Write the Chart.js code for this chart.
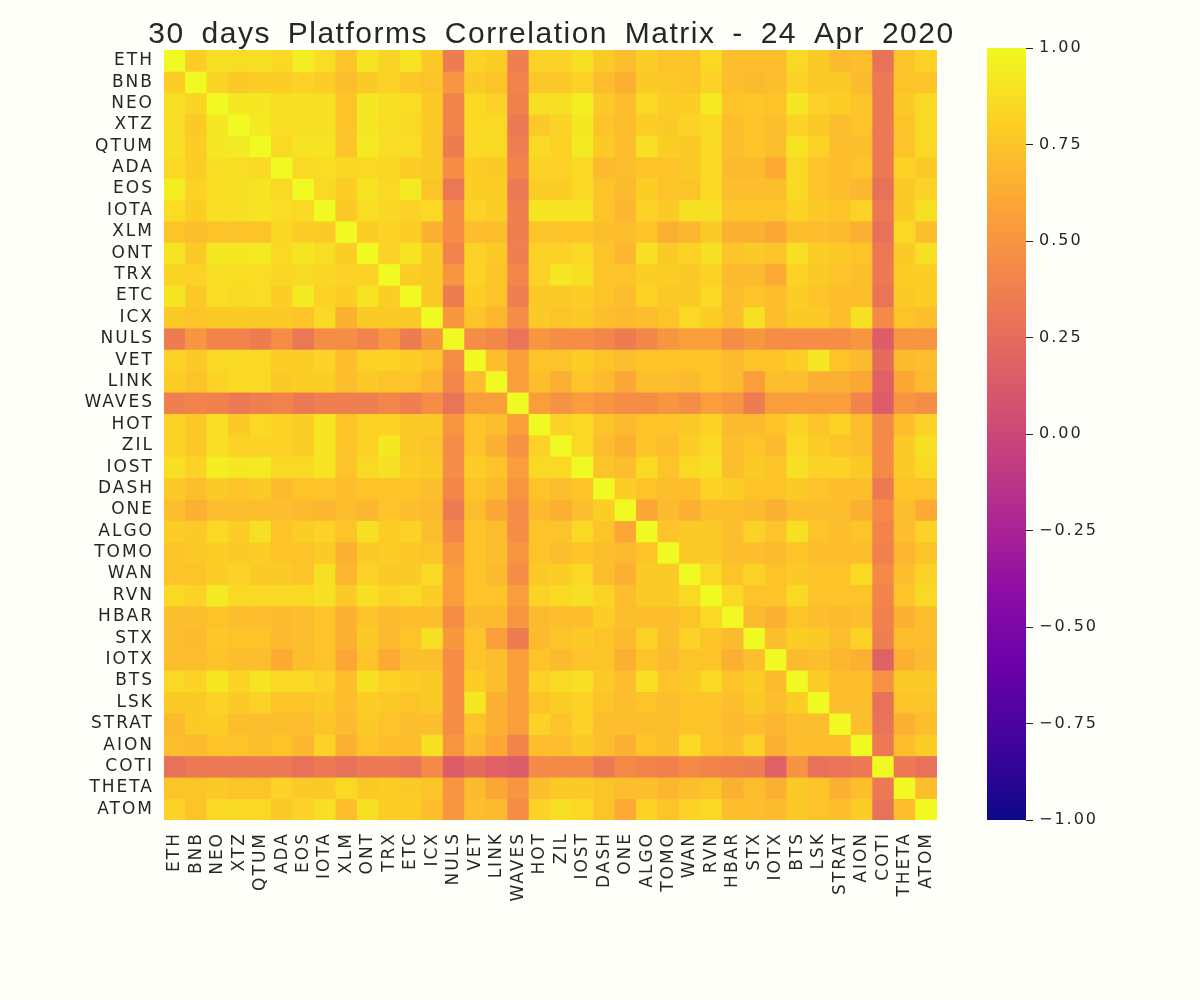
<!DOCTYPE html>
<html>
<head>
<meta charset="utf-8">
<title>Platforms Correlation Matrix</title>
<script src="https://cdn.jsdelivr.net/npm/chart.js@4/dist/chart.umd.min.js"></script>
<style>
  body { margin: 0; background: #fffffa; }
  #wrap { position: relative; width: 1200px; height: 1000px; }
  #heat { position: absolute; left: 0; top: 0; }
  #cbar { position: absolute; left: 940px; top: 0; }
</style>
</head>
<body>
<div id="wrap">
  <canvas id="heat" width="1102" height="1000"></canvas>
  <canvas id="cbar" width="260" height="1000"></canvas>
</div>
<script>
const titleText = "30 days Platforms Correlation Matrix - 24 Apr 2020";

const coins = ["ETH", "BNB", "NEO", "XTZ", "QTUM", "ADA", "EOS", "IOTA", "XLM", "ONT", "TRX", "ETC",
  "ICX", "NULS", "VET", "LINK", "WAVES", "HOT", "ZIL", "IOST", "DASH", "ONE", "ALGO", "TOMO",
  "WAN", "RVN", "HBAR", "STX", "IOTX", "BTS", "LSK", "STRAT", "AION", "COTI", "THETA", "ATOM"];

// upper triangle, row i holds the values for columns i..35
const corrUpper = [
  [1, .80, .88, .87, .88, .85, .95, .87, .75, .90, .83, .90, .78, .35, .82, .80, .36, .82, .82, .88, .78, .72, .80, .75, .75, .85, .72, .72, .72, .85, .78, .70, .72, .28, .75, .82],
  [1, .83, .78, .80, .80, .82, .80, .72, .78, .82, .77, .75, .50, .78, .75, .40, .77, .77, .82, .72, .65, .78, .77, .75, .82, .72, .70, .72, .82, .78, .78, .70, .33, .75, .75],
  [1, .92, .92, .88, .88, .88, .75, .92, .88, .87, .78, .40, .85, .82, .38, .88, .88, .95, .78, .72, .85, .80, .80, .93, .75, .77, .75, .92, .82, .80, .75, .33, .78, .85],
  [1, .93, .87, .88, .88, .75, .92, .87, .85, .78, .40, .85, .85, .33, .78, .82, .92, .75, .72, .80, .78, .82, .85, .72, .75, .72, .82, .78, .72, .75, .33, .75, .85],
  [1, .85, .90, .90, .75, .93, .87, .87, .78, .35, .85, .85, .36, .85, .82, .93, .78, .72, .88, .80, .78, .85, .72, .75, .72, .90, .82, .72, .72, .33, .75, .85],
  [1, .85, .87, .84, .85, .84, .80, .78, .45, .80, .78, .40, .82, .82, .85, .70, .72, .75, .75, .78, .85, .70, .70, .62, .85, .75, .72, .75, .33, .82, .78],
  [1, .85, .80, .90, .85, .93, .75, .32, .80, .80, .33, .80, .80, .85, .75, .70, .80, .75, .75, .85, .72, .72, .72, .85, .75, .72, .68, .28, .78, .82],
  [1, .78, .87, .84, .82, .85, .45, .82, .80, .37, .90, .90, .90, .75, .68, .82, .78, .88, .88, .75, .75, .75, .82, .78, .75, .82, .33, .78, .88],
  [1, .80, .82, .80, .65, .45, .72, .72, .37, .75, .75, .75, .72, .72, .75, .65, .68, .78, .65, .65, .60, .72, .72, .70, .65, .28, .85, .72],
  [1, .82, .90, .78, .40, .82, .78, .36, .82, .82, .85, .75, .68, .88, .78, .82, .88, .75, .78, .75, .88, .80, .78, .75, .33, .78, .88],
  [1, .80, .78, .50, .82, .75, .42, .82, .92, .88, .75, .75, .80, .80, .78, .82, .70, .70, .62, .82, .78, .75, .72, .33, .80, .80],
  [1, .78, .35, .80, .75, .36, .78, .78, .80, .75, .72, .82, .77, .78, .85, .72, .75, .72, .80, .75, .72, .72, .30, .78, .80],
  [1, .52, .75, .68, .45, .78, .75, .78, .72, .70, .72, .75, .85, .80, .72, .88, .72, .78, .78, .72, .88, .43, .75, .72],
  [1, .45, .42, .30, .50, .45, .45, .42, .35, .42, .50, .55, .55, .45, .52, .45, .45, .45, .45, .50, .15, .50, .50],
  [1, .72, .55, .75, .75, .80, .75, .72, .75, .75, .75, .75, .70, .75, .75, .80, .92, .75, .70, .25, .70, .72],
  [1, .55, .72, .65, .75, .70, .60, .72, .72, .70, .75, .70, .55, .72, .72, .65, .65, .60, .18, .60, .70],
  [1, .55, .48, .55, .50, .45, .45, .50, .45, .55, .50, .35, .55, .55, .55, .55, .40, .15, .50, .45],
  [1, .82, .85, .75, .70, .75, .75, .78, .82, .70, .70, .75, .82, .75, .82, .72, .43, .72, .82],
  [1, .85, .72, .65, .75, .72, .80, .85, .72, .75, .70, .85, .80, .75, .72, .43, .78, .88],
  [1, .75, .72, .85, .75, .85, .88, .72, .78, .75, .88, .82, .82, .78, .43, .78, .85],
  [1, .80, .75, .72, .72, .82, .80, .75, .75, .78, .75, .72, .72, .33, .75, .75],
  [1, .60, .70, .65, .72, .72, .70, .65, .72, .72, .72, .65, .43, .72, .62],
  [1, .75, .78, .78, .72, .82, .75, .88, .75, .72, .75, .40, .72, .82],
  [1, .78, .78, .72, .72, .70, .75, .72, .72, .72, .38, .68, .75],
  [1, .85, .75, .82, .75, .78, .75, .75, .85, .43, .72, .82],
  [1, .85, .75, .75, .85, .75, .75, .75, .40, .75, .85],
  [1, .70, .65, .75, .72, .70, .72, .38, .65, .72],
  [1, .72, .80, .78, .72, .82, .36, .72, .72],
  [1, .70, .72, .68, .65, .18, .65, .70],
  [1, .80, .72, .72, .48, .78, .78],
  [1, .72, .72, .28, .75, .75],
  [1, .72, .30, .65, .72],
  [1, .33, .72, .80],
  [1, .33, .28],
  [1, .72],
  [1]
];

const cbarTicks = [-1, -0.75, -0.5, -0.25, 0, 0.25, 0.5, 0.75, 1];

// plasma colormap
const plasma = ["#0d0887", "#41049d", "#6a00a8", "#8f0da4", "#b12a90", "#cc4778",
                "#e16462", "#f2844b", "#fca636", "#fcce25", "#f0f921"];

function hexRgb(h) {
  return [parseInt(h.slice(1, 3), 16), parseInt(h.slice(3, 5), 16), parseInt(h.slice(5, 7), 16)];
}
function plasmaColor(v) {
  let t = Math.min(1, Math.max(0, (v + 1) / 2)) * (plasma.length - 1);
  let i = Math.min(plasma.length - 2, Math.floor(t));
  let f = t - i;
  let a = hexRgb(plasma[i]), b = hexRgb(plasma[i + 1]);
  let c = a.map((x, k) => Math.round(x + (b[k] - x) * f));
  return "rgb(" + c.join(",") + ")";
}

function cell(r, c) {
  return r <= c ? corrUpper[r][c - r] : corrUpper[c][r - c];
}

const FONT = "'DejaVu Sans', 'Liberation Sans', sans-serif";
const TXT = "#262626";

const spacing = {
  id: 'spacing',
  beforeUpdate(chart) { chart.ctx.letterSpacing = '2px'; },
  beforeDraw(chart) { chart.ctx.letterSpacing = '2px'; }
};

const titlePlugin = {
  id: 'matrixTitle',
  afterDraw(chart) {
    const { ctx, chartArea } = chart;
    ctx.save();
    ctx.letterSpacing = '1.5px';
    ctx.wordSpacing = '7px';
    ctx.font = "30px 'Liberation Sans', sans-serif";
    ctx.fillStyle = TXT;
    ctx.textAlign = 'center';
    ctx.fillText(titleText, (chartArea.left + chartArea.right) / 2 + 1, 43);
    ctx.restore();
  }
};

const datasets = coins.map((name, r) => ({
  label: name,
  data: coins.map(() => [r - 0.5, r + 0.5]),
  backgroundColor: coins.map((_, c) => plasmaColor(cell(r, c))),
  borderWidth: 0,
  grouped: false,
  barPercentage: 1,
  categoryPercentage: 1
}));

new Chart(document.getElementById('heat'), {
  type: 'bar',
  data: { labels: coins, datasets: datasets },
  options: {
    responsive: false,
    animation: false,
    layout: { padding: { left: 0, right: 165, top: 50, bottom: 0 } },
    plugins: { legend: { display: false }, tooltip: { enabled: false } },
    scales: {
      x: {
        grid: { display: false, drawTicks: false },
        border: { display: false },
        ticks: { autoSkip: false, minRotation: 90, maxRotation: 90, padding: 12,
                 color: TXT, font: { family: FONT, size: 17 } },
        afterFit(s) { s.height = 180; }
      },
      y: {
        type: 'linear', min: -0.5, max: 35.5, reverse: true,
        grid: { display: false, drawTicks: false },
        border: { display: false },
        afterBuildTicks(s) { s.ticks = coins.map((_, i) => ({ value: i })); },
        ticks: { autoSkip: false, padding: 10, color: TXT, font: { family: FONT, size: 17 },
                 callback: (v) => coins[v] },
        afterFit(s) { s.width = 164; }
      }
    }
  },
  plugins: [spacing, titlePlugin]
});

new Chart(document.getElementById('cbar'), {
  type: 'bar',
  data: {
    labels: [''],
    datasets: [{
      data: [[-1, 1]],
      borderWidth: 0,
      barPercentage: 1,
      categoryPercentage: 1,
      backgroundColor(ctx) {
        const area = ctx.chart.chartArea;
        if (!area) return plasma[5];
        const g = ctx.chart.ctx.createLinearGradient(0, area.bottom, 0, area.top);
        plasma.forEach((col, i) => g.addColorStop(i / (plasma.length - 1), col));
        return g;
      }
    }]
  },
  options: {
    responsive: false,
    animation: false,
    layout: { padding: { left: 47, right: 0, top: 48, bottom: 180 } },
    plugins: { legend: { display: false }, tooltip: { enabled: false } },
    scales: {
      x: { display: false },
      y: {
        position: 'right', min: -1, max: 1,
        afterBuildTicks(s) { s.ticks = cbarTicks.map(v => ({ value: v })); },
        grid: { display: true, drawOnChartArea: false, drawTicks: true, tickLength: 7,
                tickColor: TXT, lineWidth: 1 },
        border: { display: false },
        ticks: { padding: 6, color: TXT, font: { family: FONT, size: 16 },
                 callback: (v) => (v < 0 ? '\u2212' : '') + Math.abs(v).toFixed(2) },
        afterFit(s) { s.width = 174; }
      }
    }
  },
  plugins: [spacing]
});
</script>
</body>
</html>
